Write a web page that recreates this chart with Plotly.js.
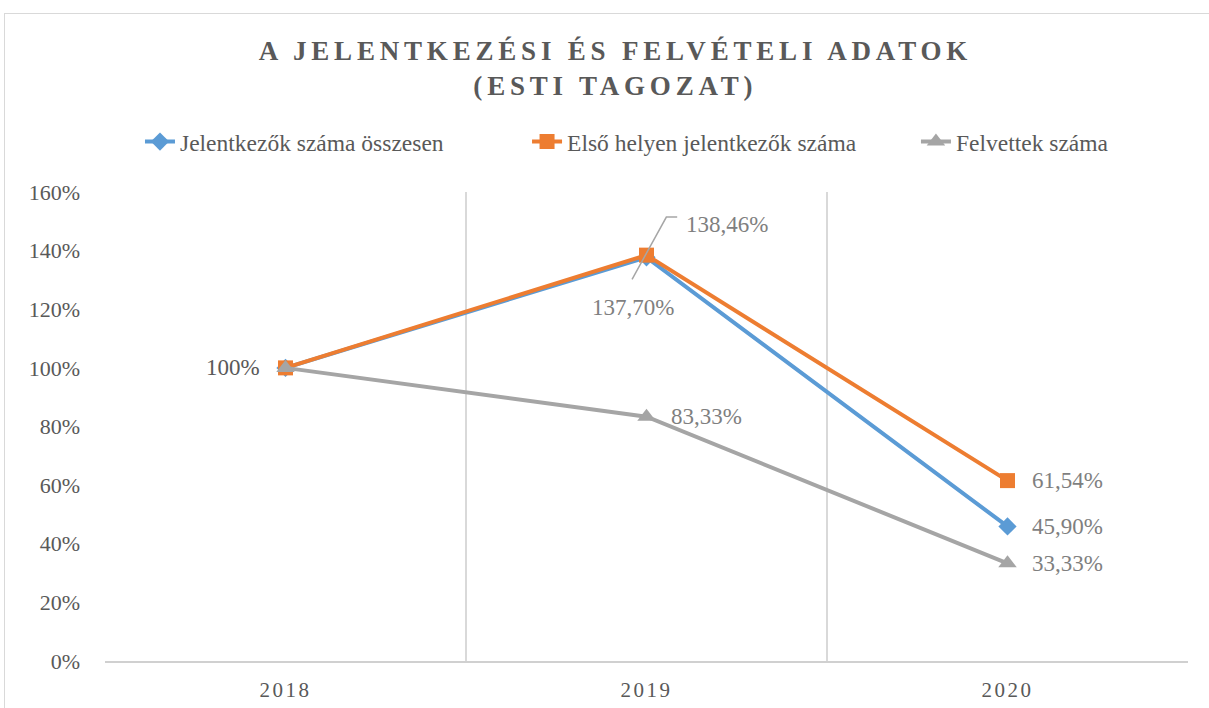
<!DOCTYPE html>
<html>
<head>
<meta charset="utf-8">
<script src="https://cdn.plot.ly/plotly-3.0.1.min.js"></script>
<style>
  html, body { margin: 0; padding: 0; background: #fff; }
  #frame { position: absolute; left: 4px; top: 13px; width: 1300px; height: 800px; border: 1.5px solid #d9d9d9; box-sizing: border-box; }
  #chart { position: absolute; left: 0; top: 0; width: 1209px; height: 708px; }
  .gtitle { letter-spacing: 4.8px; }
  .xtick text { letter-spacing: 2.5px; }
</style>
</head>
<body>
<div id="frame"></div>
<div id="chart"></div>
<script>
const categories = ['2018', '2019', '2020'];
const seriesNames = ['Jelentkezők száma összesen', 'Első helyen jelentkezők száma', 'Felvettek száma'];
const jelentkezok = [100, 137.70, 45.90];
const elsoHelyen = [100, 138.46, 61.54];
const felvettek = [100, 83.33, 33.33];
const yTickVals = [0, 20, 40, 60, 80, 100, 120, 140, 160];
const yTickText = ['0%', '20%', '40%', '60%', '80%', '100%', '120%', '140%', '160%'];
const colors = ['#5B9BD5', '#ED7D31', '#A5A5A5'];

function fmt(v) {
  if (v === 100) return '100%';
  return v.toFixed(2).replace('.', ',') + '%';
}

const FONT = 'Liberation Serif, Times New Roman, serif';

const traces = [
  { x: categories, y: jelentkezok, name: seriesNames[0], type: 'scatter', mode: 'lines+markers', legend: 'legend',
    line: { color: colors[0], width: 4 }, marker: { symbol: 'diamond', size: 14, color: colors[0] } },
  { x: categories, y: elsoHelyen, name: seriesNames[1], type: 'scatter', mode: 'lines+markers', legend: 'legend2',
    line: { color: colors[1], width: 4 }, marker: { symbol: 'square', size: 15, color: colors[1] } },
  { x: categories, y: felvettek, name: seriesNames[2], type: 'scatter', mode: 'lines+markers', legend: 'legend3',
    line: { color: colors[2], width: 4 }, marker: { symbol: 'triangle-up', size: 16, color: colors[2] } }
];

const labelFont = { family: FONT, size: 23, color: '#7F7F7F' };
function lab(xi, y, text, opts) {
  return Object.assign({ x: xi, y: y, xref: 'x', yref: 'y', text: text, showarrow: false, font: labelFont }, opts);
}
const annotations = [
  lab(0, jelentkezok[0], fmt(jelentkezok[0]), { xanchor: 'right', xshift: -24, font: { family: FONT, size: 23, color: '#595959' } }),
  lab(1, jelentkezok[1], fmt(jelentkezok[1]), { xanchor: 'center', xshift: -14, yshift: -50 }),
  lab(2, jelentkezok[2], fmt(jelentkezok[2]), { xanchor: 'left', xshift: 22 }),
  lab(1, elsoHelyen[1], fmt(elsoHelyen[1]), { xanchor: 'left', xshift: 37, yshift: 31 }),
  lab(2, elsoHelyen[2], fmt(elsoHelyen[2]), { xanchor: 'left', xshift: 22 }),
  lab(1, felvettek[1], fmt(felvettek[1]), { xanchor: 'left', xshift: 22 }),
  lab(2, felvettek[2], fmt(felvettek[2]), { xanchor: 'left', xshift: 22 })
];

function leg(x) {
  return { orientation: 'h', x: x, xanchor: 'left', y: 1.107, yanchor: 'middle',
    font: { family: FONT, size: 23.5, color: '#595959' } };
}

const layout = {
  width: 1209, height: 708,
  paper_bgcolor: 'rgba(0,0,0,0)', plot_bgcolor: 'rgba(0,0,0,0)',
  margin: { l: 105, r: 21, t: 192, b: 47 },
  title: {
    text: '<b>A JELENTKEZÉSI ÉS FELVÉTELI ADATOK<br>(ESTI TAGOZAT)</b>',
    font: { family: FONT, size: 27, color: '#595959' },
    x: 0.509, xanchor: 'center', y: 0.915, yanchor: 'top'
  },
  showlegend: true,
  legend: leg(0.0323),
  legend2: leg(0.3897),
  legend3: leg(0.7488),
  xaxis: {
    type: 'category', range: [-0.5, 2.5], tickson: 'boundaries',
    showgrid: true, gridcolor: '#D9D9D9', gridwidth: 1.5,
    showline: true, linecolor: '#D0D0D0', linewidth: 1.5,
    ticks: '', ticklabelstandoff: 9,
    tickfont: { family: FONT, size: 21, color: '#595959' },
    zeroline: false, fixedrange: true
  },
  yaxis: {
    range: [0, 160], tickvals: yTickVals, ticktext: yTickText,
    showgrid: false, zeroline: false, showline: false, ticks: '',
    ticklabelstandoff: 24,
    tickfont: { family: FONT, size: 22, color: '#595959' }, fixedrange: true
  },
  annotations: annotations,
  shapes: [
    { type: 'path', xref: 'x', yref: 'y',
      path: 'M 1.085 ' + (elsoHelyen[1] + 13) + ' L 1.055 ' + (elsoHelyen[1] + 13) + ' L 0.96 ' + (jelentkezok[1] - 7.5),
      line: { color: '#A6A6A6', width: 1.5 } }
  ]
};

Plotly.newPlot('chart', traces, layout, { displayModeBar: false, staticPlot: true });
</script>
</body>
</html>
